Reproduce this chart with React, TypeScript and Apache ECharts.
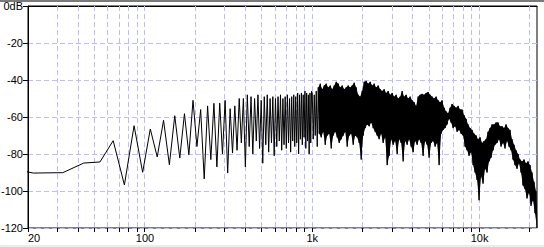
import React, { useEffect, useRef } from "react";
import * as echarts from "echarts";

// FFT bin width of the analysed spectrum (44.1 kHz, 4096 points)
const FFT_BIN_HZ = 44100 / 4096;

// Levels (dB) of FFT bins 1..92 (≈10.8 Hz .. ≈990 Hz)
const lowBinLevels = [
  -85, -90.3, -90.1, -84.9, -84.3, -72.8, -96.7, -64.7, -89.9, -66.5,
  -81.6, -61.8, -85.8, -59.3, -82.2, -58.2, -80.4, -51, -76, -56,
  -93.5, -54, -83, -52.6, -87, -52.5, -80, -51, -90.3, -55.5,
  -79.5, -54, -78, -50, -74, -50, -87, -48, -76, -49,
  -80, -50, -73, -48, -77, -51, -85, -49, -75, -48,
  -79, -50, -74, -49, -81, -50, -76, -49, -73, -48,
  -78, -50, -75, -49, -77, -48, -74, -50, -79, -49,
  -73, -48, -76, -49, -74, -47, -80, -48, -72, -47,
  -75, -48, -71, -46, -77, -47, -73, -48, -80, -47,
  -74, -46,
];

// Dense part (1 kHz .. 22.05 kHz): upper / lower edge of the black band, per plotted column (dB)
const BAND_START_HZ = 1000;
const BAND_END_HZ = 22050;
const bandTop = [
  -47, -48, -46, -44, -42, -45, -43, -42, -44, -43,
  -45, -43, -41, -42, -44, -43, -45, -44, -43, -44,
  -43, -41.5, -44, -48, -49, -46, -41, -40.5, -42, -41,
  -43, -42, -44, -43, -45, -46, -45, -47, -46, -48,
  -47, -49, -48, -50, -49, -46, -49, -48, -50, -49,
  -51, -52, -54, -49, -48, -47.5, -48, -47, -46.5, -48,
  -49, -50, -49, -51, -52, -51, -55, -57, -58, -55,
  -53, -54, -55, -54, -56, -56, -59, -61, -64, -66,
  -67, -69, -70, -72, -71, -74, -73, -72, -68, -66,
  -64, -64, -63, -63, -65, -65, -66, -64, -66, -67,
  -72, -75, -78, -80, -83, -84, -83, -85, -84, -86,
  -90, -95, -100,
];
const bandBottom = [
  -72, -70, -76, -69, -71, -68, -75, -70, -69, -77,
  -70, -68, -71, -74, -72, -70, -68, -76, -70, -69,
  -75, -70, -71, -74, -83, -70, -66, -64, -65, -63,
  -66, -68, -70, -72, -69, -74, -71, -86, -81, -72,
  -75, -73, -80, -72, -74, -84, -73, -75, -72, -76,
  -79, -73, -75, -72, -74, -81, -73, -75, -82, -74,
  -73, -76, -74, -86, -69, -67, -66, -64, -61, -63,
  -66, -65, -68, -67, -69, -70, -76, -78, -81, -79,
  -86, -90, -94, -105, -92, -96, -88, -90, -84, -82,
  -78, -75, -74, -72, -76, -74, -77, -73, -76, -78,
  -83, -86, -88, -85, -90, -97, -99, -104, -101, -108,
  -105, -112, -120,
];
// first band column drawn as a filled (solid black) region
const BAND_FILL_FROM = 3;

// Axis
const X_MIN = 20;
const X_MAX = 22050;
const Y_MIN = -120;
const Y_MAX = 0;
const Y_STEP = 20;
const gridFreqs = [
  30, 40, 50, 60, 70, 80, 90,
  100, 200, 300, 400, 500, 600, 700, 800, 900,
  1000, 2000, 3000, 4000, 5000, 6000, 7000, 8000, 9000,
  10000, 20000,
];
const tickFreqs = [20, ...gridFreqs];
const xTickLabels: Record<string, string> = { "20": "20", "100": "100", "1000": "1k", "10000": "10k" };

const GRID_COLOR = "#bcbcff";
const FONT = "'Liberation Sans', Arial, sans-serif";

function bandFreq(i: number, half: boolean): number {
  const n = bandTop.length;
  const ratio = Math.pow(BAND_END_HZ / BAND_START_HZ, 1 / (n - 0.5));
  const f = BAND_START_HZ * Math.pow(ratio, i + (half ? 0.5 : 0));
  return Math.min(f, X_MAX);
}

function buildSpectrum(): [number, number][] {
  const pts: [number, number][] = [];
  lowBinLevels.forEach((v, i) => pts.push([(i + 1) * FFT_BIN_HZ, v]));
  for (let i = 0; i < bandTop.length; i++) {
    pts.push([bandFreq(i, false), bandTop[i]]);
    pts.push([bandFreq(i, true), bandBottom[i]]);
  }
  return pts;
}

export default function App() {
  const ref = useRef<HTMLDivElement>(null);
  useEffect(() => {
    if (!ref.current) return;
    const chart = echarts.init(ref.current, undefined, { renderer: "svg" });
    const crisp = (v: number) => Math.round(v - 0.5) + 0.5;
    chart.setOption({
      animation: false,
      backgroundColor: "#ffffff",
      graphic: [
        { type: "rect", shape: { x: 0, y: 0, width: 544, height: 2 }, style: { fill: "#7a7a7a" }, silent: true },
        { type: "rect", shape: { x: 0, y: 245, width: 544, height: 2 }, style: { fill: "#ececec" }, silent: true },
      ],
      grid: {
        left: 28,
        right: 7,
        top: 6,
        bottom: 19,
        show: true,
        outerBoundsMode: "none",
        containLabel: false,
        borderColor: "#000",
        borderWidth: 1,
        backgroundColor: "transparent",
      },
      xAxis: {
        type: "log",
        logBase: 10,
        min: X_MIN,
        max: X_MAX,
        axisLine: { show: true, lineStyle: { color: "#000", width: 1 } },
        axisTick: { show: false },
        splitLine: { show: false },
        minorTick: { show: false },
        axisLabel: {
          show: true,
          color: "#000",
          fontFamily: FONT,
          fontSize: 11,
          margin: 4,
          showMinLabel: true,
          showMaxLabel: false,
          alignMinLabel: "left",
          formatter: (v: number) => {
            const key = String(Math.round(v));
            return xTickLabels[key] ?? "";
          },
        },
      },
      yAxis: {
        type: "value",
        min: Y_MIN,
        max: Y_MAX,
        interval: Y_STEP,
        axisLine: { show: true, lineStyle: { color: "#000", width: 1 } },
        axisTick: { show: true, length: 5, lineStyle: { color: "#000" } },
        splitLine: { show: true, lineStyle: { color: GRID_COLOR, type: [5, 3], width: 1 } },
        axisLabel: {
          color: "#000",
          fontFamily: FONT,
          fontSize: 11,
          margin: 5,
          formatter: (v: number) => (v === 0 ? "0dB" : String(v)),
        },
      },
      series: [
        {
          type: "custom",
          z: 1,
          silent: true,
          clip: false,
          data: tickFreqs.map((f) => [f, Y_MIN]),
          renderItem: (params: any, api: any) => {
            const f = api.value(0);
            const bottom = api.coord([f, Y_MIN]);
            const top = api.coord([f, Y_MAX]);
            const x = crisp(bottom[0]);
            const children: any[] = [
              {
                type: "line",
                shape: { x1: x, y1: bottom[1], x2: x, y2: bottom[1] + 4 },
                style: { stroke: "#000", lineWidth: 1 },
              },
            ];
            if (f > X_MIN) {
              children.push({
                type: "line",
                shape: { x1: x, y1: top[1], x2: x, y2: bottom[1] },
                style: { stroke: GRID_COLOR, lineWidth: 1, lineDash: [5, 3] },
              });
            }
            return { type: "group", children };
          },
        },
        {
          // solid black band between upper and lower edge in the dense part
          type: "custom",
          z: 2,
          silent: true,
          clip: true,
          data: [[BAND_START_HZ, 0]],
          renderItem: (params: any, api: any) => {
            const pts: number[][] = [];
            for (let i = BAND_FILL_FROM; i < bandTop.length; i++) pts.push(api.coord([bandFreq(i, false), bandTop[i]]));
            for (let i = bandBottom.length - 1; i >= BAND_FILL_FROM; i--) pts.push(api.coord([bandFreq(i, true), bandBottom[i]]));
            return { type: "polygon", shape: { points: pts }, style: { fill: "#000", stroke: "none" } };
          },
        },
        {
          type: "line",
          z: 3,
          data: buildSpectrum(),
          showSymbol: false,
          symbol: "none",
          lineStyle: { color: "#000", width: 1 },
          silent: true,
        },
      ],
    });
    return () => chart.dispose();
  }, []);
  return (
    <div
      ref={ref}
      style={{ position: "absolute", left: 0, top: 0, width: 544, height: 247 }}
    />
  );
}
